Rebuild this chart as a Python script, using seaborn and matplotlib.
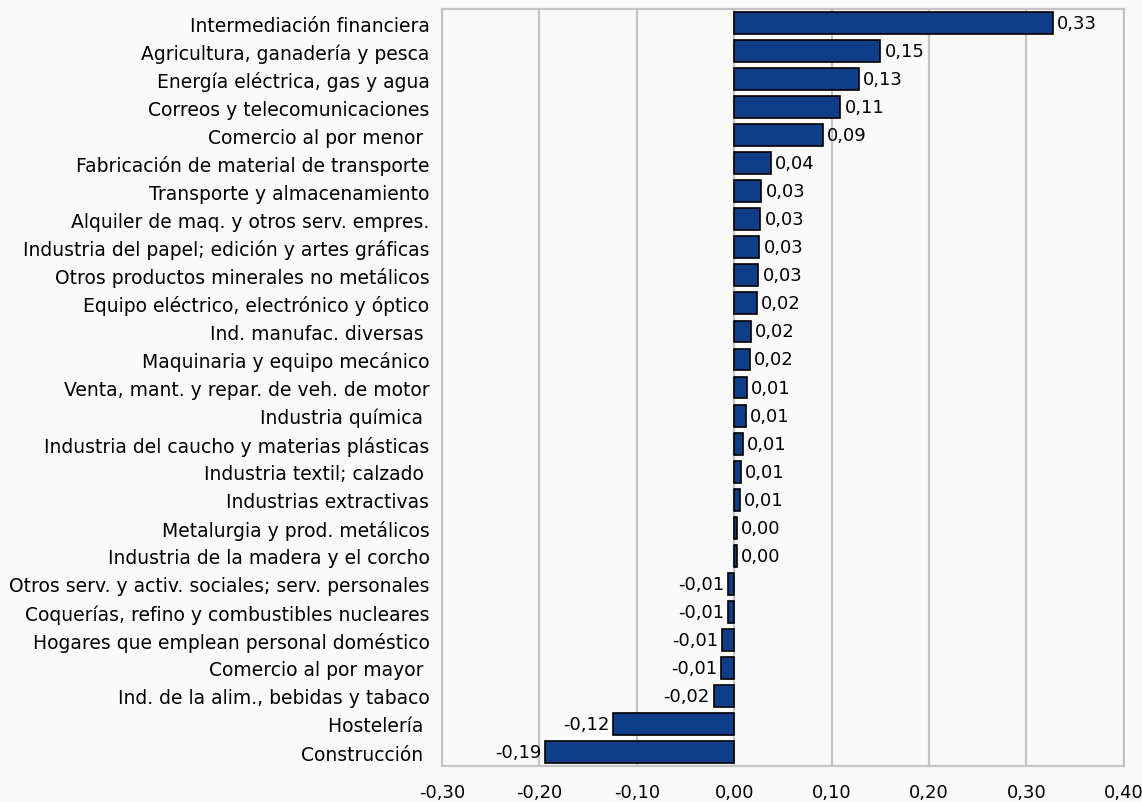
import matplotlib
matplotlib.use("Agg")
import matplotlib.pyplot as plt
import seaborn as sns

# Datos (contribución por rama)
ramas = [
    "Intermediación financiera",
    "Agricultura, ganadería y pesca",
    "Energía eléctrica, gas y agua",
    "Correos y telecomunicaciones",
    "Comercio al por menor ",
    "Fabricación de material de transporte",
    "Transporte y almacenamiento",
    "Alquiler de maq. y otros serv. empres.",
    "Industria del papel; edición y artes gráficas",
    "Otros productos minerales no metálicos",
    "Equipo eléctrico, electrónico y óptico",
    "Ind. manufac. diversas ",
    "Maquinaria y equipo mecánico",
    "Venta, mant. y repar. de veh. de motor",
    "Industria química ",
    "Industria del caucho y materias plásticas",
    "Industria textil; calzado ",
    "Industrias extractivas",
    "Metalurgia y prod. metálicos",
    "Industria de la madera y el corcho",
    "Otros serv. y activ. sociales; serv. personales",
    "Coquerías, refino y combustibles nucleares",
    "Hogares que emplean personal doméstico",
    "Comercio al por mayor ",
    "Ind. de la alim., bebidas y tabaco",
    "Hostelería ",
    "Construcción ",
]
valores = [0.327, 0.150, 0.128, 0.109, 0.091, 0.038, 0.028, 0.027, 0.026, 0.025,
           0.023, 0.017, 0.016, 0.013, 0.012, 0.009, 0.007, 0.006, 0.003, 0.003,
           -0.006, -0.006, -0.012, -0.013, -0.021, -0.124, -0.194]
xticks = [-0.3, -0.2, -0.1, 0.0, 0.1, 0.2, 0.3, 0.4]

sns.set_style("white")
plt.rcParams['font.family'] = ['DejaVu Sans']
plt.rcParams['text.color'] = 'black'
plt.rcParams['xtick.color'] = 'black'
plt.rcParams['ytick.color'] = 'black'

fig = plt.figure(figsize=(11.42, 8.03), dpi=100, facecolor='#fafafb')
ax = fig.add_axes([0.387, 0.0448, 0.597, 0.9427])
ax.set_facecolor('#fafafa')

sns.barplot(x=valores, y=ramas, orient='h', color='#0f3d87', saturation=1,
            edgecolor='black', linewidth=1.2, width=0.78, ax=ax, zorder=3)

etiquetas = [f"{v:.2f}".replace('.', ',') for v in valores]
ax.bar_label(ax.containers[0], labels=etiquetas, padding=3, fontsize=13, zorder=4)

ax.set_xlim(-0.3, 0.4)
ax.set_xticks(xticks)
ax.set_xticklabels([f"{t:.2f}".replace('.', ',') for t in xticks])
ax.grid(axis='x', color='#c4c4c4', linewidth=1.6, zorder=0)
ax.set_axisbelow(True)
for s in ax.spines.values():
    s.set_color('#c4c4c4')
    s.set_linewidth(1.6)
ax.tick_params(axis='x', length=0, pad=12, labelsize=13)
ax.tick_params(axis='y', length=0, pad=9, labelsize=13.5)
ax.set_xlabel('')
ax.set_ylabel('')

fig.savefig('out.png', dpi=100, facecolor=fig.get_facecolor())
